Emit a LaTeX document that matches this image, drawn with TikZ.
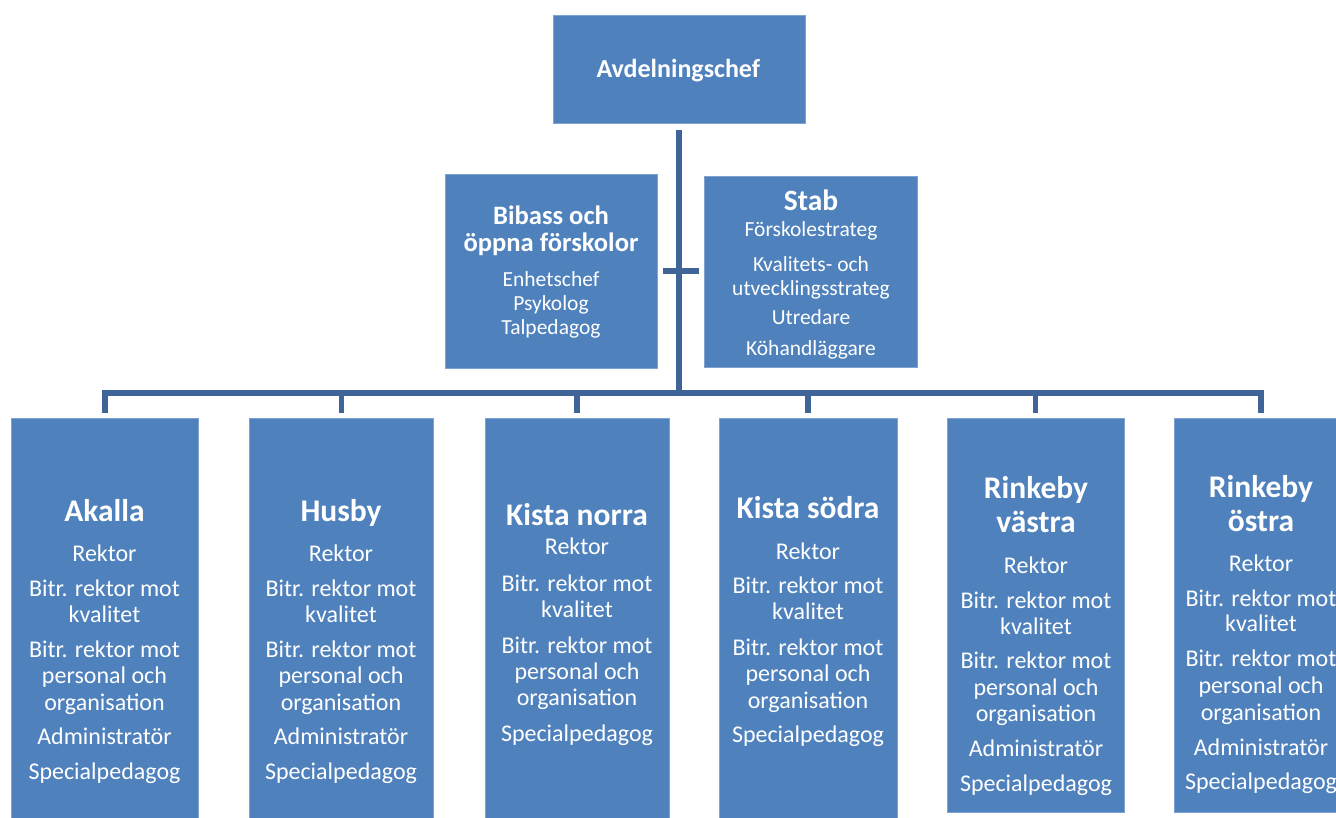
\documentclass[tikz,border=0pt]{standalone}
\usepackage{fontspec}
\setmainfont{Carlito}
\definecolor{boxfill}{HTML}{4F81BD}
\definecolor{boxedge}{HTML}{7FA2D4}
\definecolor{conncol}{HTML}{3F6497}
\newcommand\ttlbig{\fontsize{31.5}{34}\selectfont\bfseries}
\newcommand\ttlmid{\fontsize{26.6}{29}\selectfont\bfseries}
\newcommand\ttlstab{\fontsize{29.5}{30}\selectfont\bfseries}
\newcommand\ttltop{\fontsize{26}{28}\selectfont\bfseries}
\newcommand\smallf{\fontsize{21.5}{23}\selectfont}
\begin{document}
\begin{tikzpicture}[x=1pt,y=-1pt,
  box/.style={rectangle, draw=boxedge, line width=1pt, fill=boxfill, inner sep=0pt},
  txt/.style={text=white, anchor=base, inner sep=0pt, font=\fontsize{24}{26}\selectfont},
  conn/.style={draw=conncol, line width=5.5pt, line join=miter}]
\useasboundingbox (0,0) rectangle (1336,817);
\clip (0,0) rectangle (1336,817);
% boxes
\node[box, minimum width=252pt, minimum height=108pt] (top) at (679,69) {};
\node[box, minimum width=212pt, minimum height=194pt] (bibass) at (551,271) {};
\node[box, minimum width=213pt, minimum height=191pt] (stab) at (810.5,271.5) {};
\node[box, minimum width=187.7pt, minimum height=404pt] (akalla) at (104.85,620) {};
\node[box, minimum width=184.7pt, minimum height=404pt] (husby) at (341.35,620) {};
\node[box, minimum width=184pt, minimum height=404pt] (kn) at (577,620) {};
\node[box, minimum width=178pt, minimum height=404pt] (ks) at (808,620) {};
\node[box, minimum width=177pt, minimum height=394pt] (rv) at (1035.5,615) {};
\node[box, minimum width=174pt, minimum height=394pt] (ro) at (1261,615) {};
% connectors
\coordinate (busmid) at (679,393);
\draw[conn] ([yshift=-6pt]top.south) -- (busmid);
\draw[conn] ([yshift=5pt]akalla.north) |- (busmid) -| ([yshift=5pt]ro.north);
\foreach \b in {husby,kn,ks,rv}
  \draw[conn] (\b.north |- busmid) -- ([yshift=5pt]\b.north);
\draw[conn] ([xshift=5pt]bibass.east) -- ([xshift=-5pt]stab.west |- bibass.east);
% texts
\node[txt, font=\ttltop] (toptxt) at (678.3,77.3) {Avdelningschef};
\foreach \yy/\txt [count=\i] in {224/\ttlmid Bibass och, 251.7/\ttlmid öppna förskolor, 286.7/\smallf Enhetschef, 310.7/\smallf Psykolog, 334/\smallf Talpedagog}
  \node[txt] (bibass-\i) at (551,\yy) {\txt};
\foreach \yy/\txt [count=\i] in {210.7/\ttlstab Stab, 236.7/\smallf Förskolestrateg, 271/\smallf Kvalitets- och, 295/\smallf utvecklingsstrateg, 324.3/\smallf Utredare, 355/\smallf Köhandläggare}
  \node[txt] (stab-\i) at (811,\yy) {\txt};
\foreach \yy/\txt [count=\i] in {521.7/\ttlbig Akalla, 561.7/Rektor, 596.7/Bitr. rektor mot, 622.3/kvalitet, 657.3/Bitr. rektor mot, 683.3/personal och, 710/organisation, 744.3/Administratör, 779.3/Specialpedagog}
  \node[txt] (akalla-\i) at (104.5,\yy) {\txt};
\foreach \yy/\txt [count=\i] in {521.7/\ttlbig Husby, 561.7/Rektor, 596.7/Bitr. rektor mot, 622.3/kvalitet, 657.3/Bitr. rektor mot, 683.3/personal och, 710/organisation, 744.3/Administratör, 779.3/Specialpedagog}
  \node[txt] (husby-\i) at (341,\yy) {\txt};
\foreach \yy/\txt [count=\i] in {525.7/\ttlbig Kista norra, 554/Rektor, 591/Bitr. rektor mot, 617.7/kvalitet, 653.3/Bitr. rektor mot, 679/personal och, 705/organisation, 741/Specialpedagog}
  \node[txt] (kn-\i) at (577,\yy) {\txt};
\foreach \yy/\txt [count=\i] in {518.3/\ttlbig Kista södra, 559.3/Rektor, 593.3/Bitr. rektor mot, 619.3/kvalitet, 655/Bitr. rektor mot, 681/personal och, 708.3/organisation, 742.7/Specialpedagog}
  \node[txt] (ks-\i) at (808,\yy) {\txt};
\foreach \yy/\txt [count=\i] in {498.3/\ttlbig Rinkeby, 532.7/\ttlbig västra, 573.3/Rektor, 608.3/Bitr. rektor mot, 634/kvalitet, 668.7/Bitr. rektor mot, 695/personal och, 721/organisation, 756/Administratör, 791/Specialpedagog}
  \node[txt] (rv-\i) at (1036,\yy) {\txt};
\foreach \yy/\txt [count=\i] in {497.3/\ttlbig Rinkeby, 531.7/\ttlbig östra, 571.7/Rektor, 606.7/Bitr. rektor mot, 631.7/kvalitet, 666.7/Bitr. rektor mot, 693.3/personal och, 720/organisation, 755/Administratör, 789.3/Specialpedagog}
  \node[txt] (ro-\i) at (1261,\yy) {\txt};
\end{tikzpicture}
\end{document}
